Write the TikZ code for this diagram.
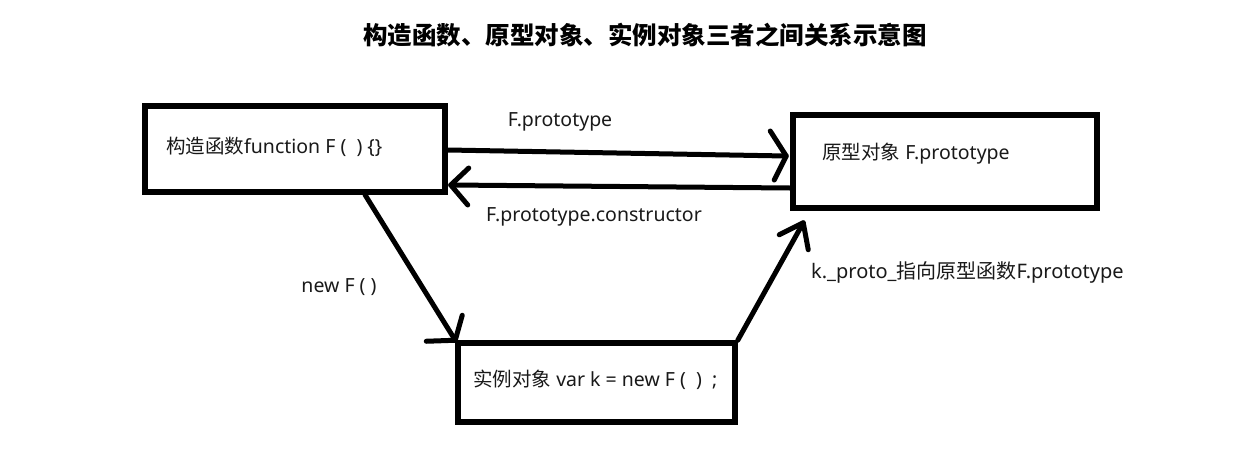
\documentclass[tikz,border=0pt]{standalone}
\usepackage{fontspec}
\setmainfont{Noto Sans}
\newfontfamily\cjk{Noto Sans CJK SC}
\usetikzlibrary{calc}
\begin{document}
\begin{tikzpicture}[x=1pt,y=-1pt,
  box/.style={draw=black,line width=5.5pt,minimum width=#1,inner sep=0pt},
  txt/.style={font=\fontsize{19.5}{22}\selectfont,inner sep=0pt,anchor=west,text=black!90},
  shaft/.style={line width=5pt,line cap=round},
  head/.style={line width=5pt,line cap=round,line join=round}]
\useasboundingbox (0,0) rectangle (1253,456);
\fill[white] (0,0) rectangle (1253,456);
% title
\node[font=\fontsize{24.5}{28}\selectfont\cjk\bfseries,inner sep=0pt] (title) at (645,35) {构造函数、原型对象、实例对象三者之间关系示意图};
% boxes
\node[box=300pt,minimum height=86pt] (b1) at (295,149) {};
\node[box=304pt,minimum height=93pt] (b2) at (945,161.5) {};
\node[box=277pt,minimum height=79pt] (b3) at (596.5,382.5) {};
% box texts
\node[txt] (t1) at (166,147) {{\cjk 构造函数}function F\ (\ \ )\ \{\}};
\node[txt] (t2) at (822,154) {{\cjk 原型对象} F.prototype};
\node[txt] (t3) at (473,380) {{\cjk 实例对象} var k = new F\ (\ \ )\ \ ;};
% connector 1: F.prototype
\coordinate (tip1) at ($(b2.west)+(-4,-5.5)$);
\draw[shaft] ([yshift=-1pt]b1.east) -- (tip1);
\draw[head] ($(tip1)+(-16,-25)$) -- (tip1) -- ($(tip1)+(-12,24)$);
\node[txt,anchor=center] (l1) at (560,122) {F.prototype};
% connector 2: constructor
\coordinate (tip2) at ($(b1.east)+(3,36)$);
\draw[shaft] ([yshift=-26.5pt]b2.west) -- (tip2);
\draw[head] ($(tip2)+(18,-17)$) -- (tip2) -- ($(tip2)+(17,20)$);
\node[txt,anchor=center] (l2) at (594,217) {F.prototype.constructor};
% connector 3: new F()
\coordinate (tip3) at ($(b3.north west)+(0,0)$);
\draw[shaft] ([xshift=70pt]b1.south) -- (tip3);
\draw[head] ($(tip3)+(-29,1)$) -- (tip3) -- ($(tip3)+(7,-25)$);
\node[txt,anchor=center] (l3) at (339,287) {new F ( )};
% connector 4: __proto__
\coordinate (tip4) at ($(b2.south west)+(13,12)$);
\draw[shaft] (b3.north east) -- (tip4);
\draw[head] ($(tip4)+(-24,12)$) -- (tip4) -- ($(tip4)+(5,27)$);
\node[txt,font=\fontsize{20}{22}\selectfont] (l4) at (811,272) {k.\_proto\_{\cjk 指向原型函数}F.prototype};
\end{tikzpicture}
\end{document}
